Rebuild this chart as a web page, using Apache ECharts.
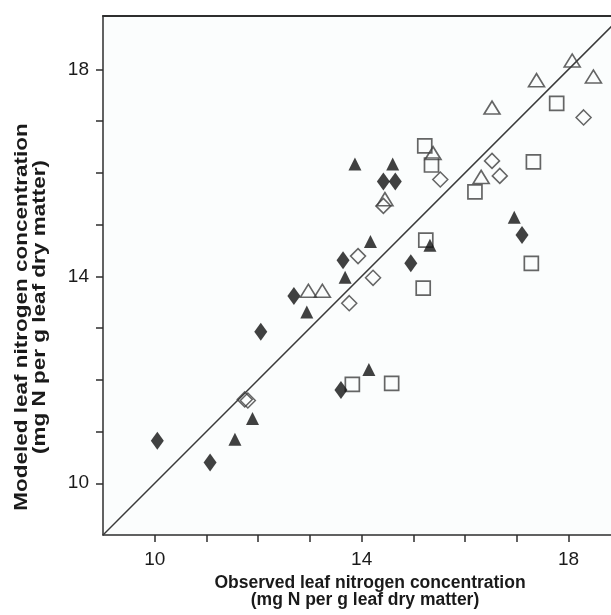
<!DOCTYPE html>
<html>
<head>
<meta charset="utf-8">
<script src="https://cdn.jsdelivr.net/npm/echarts@6/dist/echarts.min.js"></script>
<style>
html,body{margin:0;padding:0;background:#ffffff;}
#chart{width:611px;height:615px;}
</style>
</head>
<body>
<div id="chart"></div>
<script>
// Observed (x) vs modeled (y) leaf nitrogen concentration, mg N per g leaf dry matter
var filledDiamond = [[10.05,10.82],[11.07,10.40],[12.05,12.93],[12.69,13.62],[13.64,14.31],[13.60,11.80],[14.42,15.83],[14.65,15.83],[14.95,14.25],[17.10,14.80]];
var filledTriangle = [[11.55,10.85],[11.89,11.25],[12.94,13.31],[13.68,13.98],[14.17,14.67],[13.87,16.17],[14.60,16.17],[15.32,14.60],[16.95,15.14],[14.14,12.20]];
var openDiamond = [[11.74,11.62],[11.80,11.60],[13.76,13.48],[13.93,14.39],[14.22,13.97],[14.42,15.36],[15.52,15.87],[16.52,16.23],[16.67,15.94],[18.29,17.07]];
var openTriangle = [[12.97,13.72],[13.24,13.72],[14.45,15.49],[15.38,16.38],[16.31,15.92],[16.52,17.26],[17.38,17.79],[18.07,18.17],[18.48,17.86]];
var openSquare = [[13.82,11.91],[14.58,11.93],[15.19,13.77],[15.24,14.70],[15.22,16.52],[15.35,16.15],[16.19,15.63],[17.32,16.21],[17.28,14.25],[17.77,17.34]];
var oneToOne = [[9,9],[19.1,19.1]];
var tickValues = [10,11,12,13,14,15,16,17,18];
var labelValues = [10,14,18];
var xTitle = ['Observed leaf nitrogen concentration','(mg N per g leaf dry matter)'];
var yTitle = ['Modeled leaf nitrogen concentration','(mg N per g leaf dry matter)'];

var axisColor = '#2e2e2e';
var xTitleFont = 'bold 17.5px "Liberation Sans", Arial, sans-serif';
var yTitleFont = 'bold 18px "Liberation Sans", Arial, sans-serif';

var chart = echarts.init(document.getElementById('chart'), null, {renderer:'canvas'});

function axisCommon(min, max){
  return {
    type:'value', min:min, max:max,
    splitLine:{show:false},
    axisLine:{show:true, onZero:false, lineStyle:{color:axisColor, width:1.5}},
    axisTick:{show:true, inside:false, length:7, customValues:tickValues, lineStyle:{color:axisColor, width:1.5}},
    axisLabel:{show:true, customValues:labelValues, color:'#1a1a1a', fontSize:19, fontFamily:'"Liberation Sans", Arial, sans-serif'}
  };
}

var xA = axisCommon(9, 18.82); xA.position='bottom'; xA.axisLabel.margin=15;
var xTop = {type:'value', min:9, max:18.82, position:'top', axisLine:{show:true, onZero:false, lineStyle:{color:axisColor,width:2}}, axisTick:{show:false}, axisLabel:{show:false}, splitLine:{show:false}};
var yA = axisCommon(9, 19.03); yA.position='left'; yA.axisLabel.margin=14;

var option = {
  animation:false,
  backgroundColor:'#ffffff',
  grid:{left:103, top:16, width:508, height:519, show:true, backgroundColor:'#fbfdfd', borderWidth:0},
  xAxis:[xA, xTop],
  yAxis:[yA],
  series:[
    {type:'line', data:oneToOne, symbol:'none', lineStyle:{color:'#3a3a3a', width:1.5}, clip:true, z:1},
    {type:'scatter', data:openSquare, symbol:'rect', symbolSize:[14,14],
      itemStyle:{color:'rgba(255,255,255,0)', borderColor:'#3f3f3f', borderWidth:1.7}, z:2},
    {type:'scatter', data:openDiamond, symbol:'diamond', symbolSize:[15,15],
      itemStyle:{color:'rgba(255,255,255,0)', borderColor:'#3f3f3f', borderWidth:1.5}, z:3},
    {type:'scatter', data:openTriangle, symbol:'triangle', symbolSize:[16,13],
      itemStyle:{color:'rgba(255,255,255,0)', borderColor:'#3f3f3f', borderWidth:1.6}, z:4},
    {type:'scatter', data:filledTriangle, symbol:'triangle', symbolSize:[13,13],
      itemStyle:{color:'#111111'}, z:5},
    {type:'scatter', data:filledDiamond, symbol:'diamond', symbolSize:[13,18],
      itemStyle:{color:'#111111'}, z:6}
  ],
  graphic:[
    {type:'text', x:370, y:583, style:{text:xTitle[0], font:xTitleFont, fill:'#1a1a1a', textAlign:'center', textVerticalAlign:'middle'}},
    {type:'text', x:365, y:600, style:{text:xTitle[1], font:xTitleFont, fill:'#1a1a1a', textAlign:'center', textVerticalAlign:'middle'}},
    {type:'text', x:22, y:317, rotation:Math.PI/2, scaleX:1.25, style:{text:yTitle[0], font:yTitleFont, fill:'#1a1a1a', textAlign:'center', textVerticalAlign:'middle'}},
    {type:'text', x:40, y:307, rotation:Math.PI/2, scaleX:1.25, style:{text:yTitle[1], font:yTitleFont, fill:'#1a1a1a', textAlign:'center', textVerticalAlign:'middle'}}
  ]
};
chart.setOption(option);
</script>
</body>
</html>
